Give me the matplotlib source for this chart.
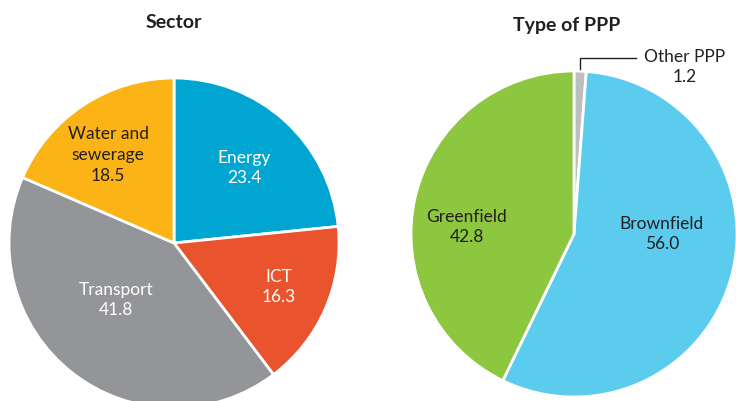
import matplotlib
matplotlib.use("Agg")
import matplotlib.pyplot as plt

plt.rcParams['font.family'] = ['Lato', 'DejaVu Sans']

sector_labels = ["Energy", "ICT", "Transport", "Water and\nsewerage"]
sector_values = [23.4, 16.3, 41.8, 18.5]
sector_colors = ["#00A5D2", "#E9532D", "#939598", "#FBB316"]
sector_text_colors = ["white", "white", "white", "#231F20"]

ppp_labels = ["Other PPP", "Brownfield", "Greenfield"]
ppp_values = [1.2, 56.0, 42.8]
ppp_colors = ["#BCBEC0", "#5BCBEE", "#8DC63F"]

W, H = 736, 402
fig = plt.figure(figsize=(W / 100, H / 100), dpi=100)
ax = fig.add_axes([0, 0, 1, 1])
ax.set_xlim(0, W)
ax.set_ylim(0, H)
ax.set_aspect('equal')
ax.axis('off')

def py(y):
    return H - y

wedge_kw = dict(edgecolor='white', linewidth=2.0)

# Left pie
lc = (174, py(244)); lr = 165
ax.pie(sector_values, colors=sector_colors, startangle=90, counterclock=False,
       center=lc, radius=lr, wedgeprops=wedge_kw, frame=True)
# Right pie
rc = (574, py(235)); rr = 163
ax.pie(ppp_values, colors=ppp_colors, startangle=90, counterclock=False,
       center=rc, radius=rr, wedgeprops=wedge_kw, frame=True)

ax.set_xlim(0, W)
ax.set_ylim(0, H)
ax.axis('off')

fs = 12.5
ls = 1.35
# Sector labels
sector_pos = [(244, 168), (279, 287), (116, 300), (108, 155)]
for lab, val, (x, y), c in zip(sector_labels, sector_values, sector_pos, sector_text_colors):
    ax.text(x, py(y), f"{lab}\n{val:.1f}", ha='center', va='center', fontsize=fs,
            color=c, linespacing=ls)

# PPP labels
ax.text(467, py(227), f"{ppp_labels[2]}\n{ppp_values[2]:.1f}", ha='center', va='center',
        fontsize=fs, color="#231F20", linespacing=ls)
ax.text(662, py(234), f"{ppp_labels[1]}\n{ppp_values[1]:.1f}", ha='center', va='center',
        fontsize=fs, color="#231F20", linespacing=ls)
ax.text(685, py(67), f"{ppp_labels[0]}\n{ppp_values[0]:.1f}", ha='center', va='center',
        fontsize=fs, color="#231F20", linespacing=ls)
ax.plot([580, 580, 636], [py(70), py(59), py(59)], color="#231F20", linewidth=1.0)

# Titles
ax.text(174, py(22), "Sector", ha='center', va='center', fontsize=14,
        fontweight='bold', color="#231F20")
ax.text(567, py(25), "Type of PPP", ha='center', va='center', fontsize=14,
        fontweight='bold', color="#231F20")

fig.savefig("out.png", dpi=100)
